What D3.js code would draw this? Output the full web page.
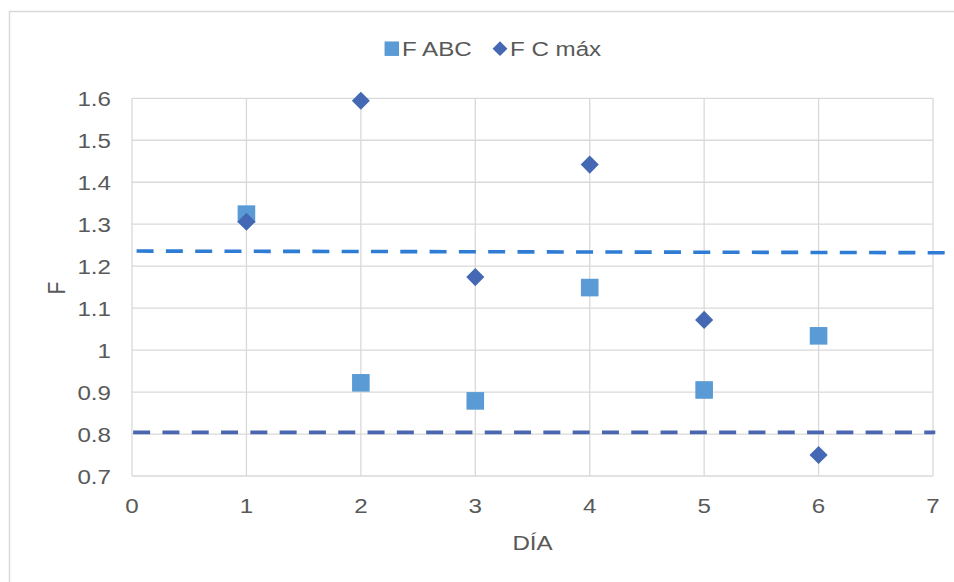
<!DOCTYPE html>
<html>
<head>
<meta charset="utf-8">
<script src="https://cdn.jsdelivr.net/npm/d3@7"></script>
<style>
  html, body { margin: 0; padding: 0; background: #fff; }
  svg { display: block; }
  text { font-family: "Liberation Sans", Arial, sans-serif; fill: #595959; }
</style>
</head>
<body>
<svg id="chart" width="954" height="582"></svg>
<script>
// Day number for each measurement
const days = [1, 2, 3, 4, 5, 6];
// F computed with the ABC method
const fABC = [1.324, 0.922, 0.879, 1.149, 0.905, 1.034];
// F computed with maximum C
const fCmax = [1.306, 1.594, 1.174, 1.442, 1.072, 0.750];

// Reference limits drawn as dashed lines
const upperLimitX = [0.04, 7.2];
const upperLimitY = [1.236, 1.232];
const lowerLimitX = [0.01, 7.02];
const lowerLimitY = [0.804, 0.804];

// Axis ticks
const xTicks = [0, 1, 2, 3, 4, 5, 6, 7];
const yTicks = [0.7, 0.8, 0.9, 1.0, 1.1, 1.2, 1.3, 1.4, 1.5, 1.6];
const yTickLabels = ["0.7", "0.8", "0.9", "1", "1.1", "1.2", "1.3", "1.4", "1.5", "1.6"];

const seriesNames = ["F ABC", "F C máx"];
const colABC = "#5B9BD5";
const colCmax = "#4468B4";
const colUpper = "#2E7CD4";
const colLower = "#4A66B0";
const gridCol = "#D9D9D9";
const stretch = 1.15; // horizontal text stretch
const fontSize = 21;

const svg = d3.select("#chart");

// Chart frame
svg.append("rect")
  .attr("x", 9.5).attr("y", 11.5)
  .attr("width", 960).attr("height", 600)
  .attr("fill", "none").attr("stroke", gridCol).attr("stroke-width", 1.5);

const x = d3.scaleLinear().domain([0, 7]).range([132, 933]);
const y = d3.scaleLinear().domain([0.7, 1.6]).range([476, 98.3]);

// Gridlines
const grid = svg.append("g");
grid.selectAll("line.h").data(yTicks).join("line")
  .attr("x1", x(0)).attr("x2", x(7))
  .attr("y1", d => y(d)).attr("y2", d => y(d))
  .attr("stroke", gridCol).attr("stroke-width", 1.3);
grid.selectAll("line.v").data(xTicks).join("line")
  .attr("y1", y(0.7)).attr("y2", y(1.6))
  .attr("x1", d => x(d)).attr("x2", d => x(d))
  .attr("stroke", gridCol).attr("stroke-width", 1.3);

function stretchedText(g, tx, ty, str, anchor, size) {
  return g.append("text")
    .attr("transform", `translate(${tx},${ty}) scale(${stretch},1)`)
    .attr("text-anchor", anchor)
    .attr("font-size", size)
    .text(str);
}

// Y tick labels
const yAxisG = svg.append("g");
yTicks.forEach((t, i) => {
  stretchedText(yAxisG, 111, y(t) + 7.7, yTickLabels[i], "end", fontSize);
});

// X tick labels
const xAxisG = svg.append("g");
xTicks.forEach(t => {
  stretchedText(xAxisG, x(t), 513, String(t), "middle", fontSize);
});

// Axis titles
stretchedText(svg, 532.5, 550, "DÍA", "middle", fontSize);
svg.append("text")
  .attr("transform", `translate(64.5,288) rotate(-90) scale(1,${stretch})`)
  .attr("text-anchor", "middle").attr("font-size", fontSize)
  .text("F");

// Dashed limit lines
const line = d3.line().x(d => x(d[0])).y(d => y(d[1]));
svg.append("path")
  .datum(upperLimitX.map((v, i) => [v, upperLimitY[i]]))
  .attr("d", line).attr("fill", "none")
  .attr("stroke", colUpper).attr("stroke-width", 3.6)
  .attr("stroke-dasharray", "17,12.3");
svg.append("path")
  .datum(lowerLimitX.map((v, i) => [v, lowerLimitY[i]]))
  .attr("d", line).attr("fill", "none")
  .attr("stroke", colLower).attr("stroke-width", 3.6)
  .attr("stroke-dasharray", "17,12.3");

// Markers
const sq = d3.symbol().type(d3.symbolSquare).size(17.6 * 17.6);
const dia = d3.symbol().type(d3.symbolSquare).size(12.8 * 12.8);

svg.append("g").selectAll("path").data(days).join("path")
  .attr("d", sq)
  .attr("transform", (d, i) => `translate(${x(d)},${y(fABC[i])})`)
  .attr("fill", colABC);

svg.append("g").selectAll("path").data(days).join("path")
  .attr("d", dia)
  .attr("transform", (d, i) => `translate(${x(d)},${y(fCmax[i])}) rotate(45)`)
  .attr("fill", colCmax);

// Legend
const leg = svg.append("g");
leg.append("path").attr("d", d3.symbol().type(d3.symbolSquare).size(14.5 * 14.5))
  .attr("transform", "translate(391.8,48.7)").attr("fill", colABC);
stretchedText(leg, 402, 55.9, seriesNames[0], "start", fontSize);
leg.append("path").attr("d", d3.symbol().type(d3.symbolSquare).size(10.5 * 10.5))
  .attr("transform", "translate(500,48.7) rotate(45)").attr("fill", colCmax);
stretchedText(leg, 510, 55.9, seriesNames[1], "start", fontSize);
</script>
</body>
</html>
